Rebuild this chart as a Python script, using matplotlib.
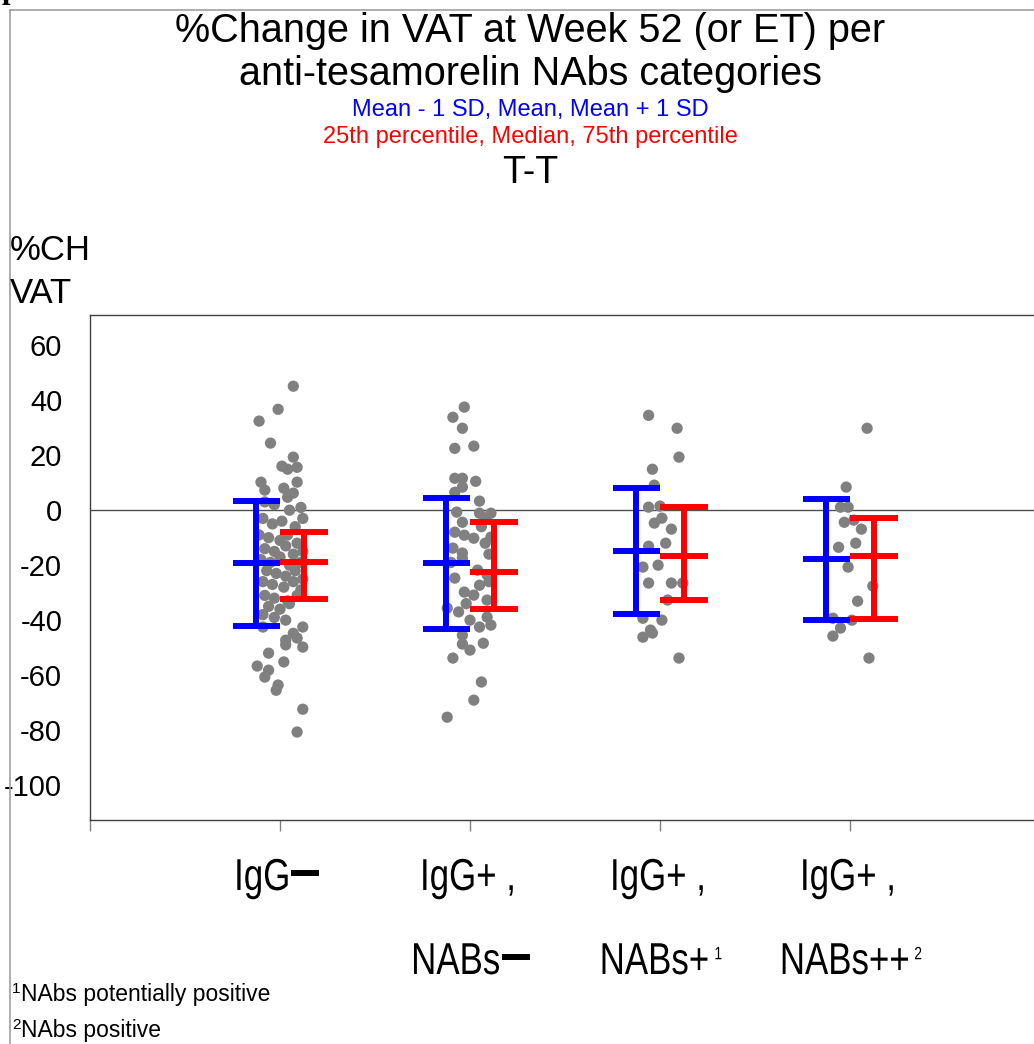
import numpy as np
import matplotlib
matplotlib.use("Agg")
import matplotlib.pyplot as plt
from matplotlib.lines import Line2D
from matplotlib.textpath import TextPath
from matplotlib.patches import PathPatch
from matplotlib.path import Path
from matplotlib.font_manager import FontProperties
from matplotlib.transforms import Affine2D

plt.rcParams['font.family'] = ['Liberation Sans', 'DejaVu Sans']
plt.rcParams['axes.unicode_minus'] = False

# x-axis labels, two lines per category; each piece is (text, relative size, rise, gap before)
# a text of None is the heavy minus bar used by the original
cat_line1 = [
    [("IgG", 1.0, 0.0, 0), (None, 1.0, 0.0, 3)],
    [("IgG+ ,", 1.0, 0.0, 0)],
    [("IgG+ ,", 1.0, 0.0, 0)],
    [("IgG+ ,", 1.0, 0.0, 0)],
]
cat_line2 = [
    [],
    [("NABs", 1.0, 0.0, 0), (None, 1.0, 0.0, 3)],
    [("NABs+", 1.0, 0.0, 0), ("1", 0.4, 0.33, 8)],
    [("NABs++", 1.0, 0.0, 0), ("2", 0.4, 0.33, 7)],
]

# individual %change values and horizontal jitter (category units)
g1_vals = [45.1, 36.7, 32.4, 24.4, 19.3, 16.0, 14.9, 15.6, 10.2, 7.3, 8.0, 10.2, 6.2, 4.7,
           3, 2, 0, 1, -3, -5, -4, -6, -3, -9, -10, -11, -9, -12, -14, -15, -13, -16, -15,
           -18, -19, -17, -20, -19, -22, -23, -24, -22, -25, -26, -27, -28, -26, -29,
           -31, -32, -33, -31, -35, -36, -34, -38, -39, -40,
           -42.5, -42.5, -44.8, -47.3, -49, -49.8, -46.5, -52, -55.2, -56.7, -58.2,
           -60.7, -63.6, -65.5, -72.4, -80.7]
g1_jit = [0.07, -0.01, -0.11, -0.05, 0.07, 0.01, 0.04, 0.09, -0.10, -0.08, 0.02, 0.09, 0.07, 0.04,
          -0.08, -0.03, 0.05, 0.11, -0.09, -0.04, 0.01, 0.08, 0.12, -0.11, -0.06, 0.0, 0.04, 0.09,
          -0.08, -0.03, 0.03, 0.07, 0.12, -0.10, -0.05, 0.0, 0.05, 0.11, -0.07, -0.02, 0.03, 0.08,
          0.12, -0.09, -0.04, 0.02, 0.07, 0.11, -0.08, -0.03, 0.04, 0.09, -0.06, 0.0, 0.05, -0.09,
          -0.03, 0.03,
          -0.09, 0.12, 0.07, 0.03, 0.03, 0.12, 0.09, -0.06, 0.02, -0.12, -0.06, -0.08, -0.01, -0.02,
          0.12, 0.09]

g2_vals = [37.5, 33.8, 29.8, 22.5, 23.3, 11.6, 11.6, 10.5, 6.5, 8.4, 3.3, -0.7, -1.1, -1.1,
           -4.4, -3.0, -8.0, -9.1, -10.2, -9.8, -13.8, -15.6, -17.5, -21.8, -24.7, -29.8, -30.9,
           -27.3, -32.7, -35.6, -37.0, -38.9, -42.5, -41.8, -45.5, -48.7, -50.9, -48.4, -53.8,
           -62.5, -69.1, -75.3, -19.0, -23.5, -12.0, -6.0, -26.0, -34.0, -40.0, -16.0]
g2_jit = [-0.03, -0.09, -0.04, -0.08, 0.02, -0.08, -0.04, 0.03, -0.08, -0.04, 0.05, -0.07, 0.05, 0.11,
          -0.04, 0.08, -0.08, -0.03, 0.02, 0.11, -0.09, -0.04, -0.04, 0.04, -0.08, -0.03, 0.02,
          0.05, 0.09, -0.12, -0.06, 0.09, 0.05, 0.11, -0.04, -0.04, 0.0, 0.07, -0.09,
          0.06, 0.02, -0.12, -0.10, 0.09, 0.08, 0.06, 0.10, -0.02, 0.0, 0.10]

g3_vals = [34.5, 29.8, 19.3, 14.9, 9.1, 1.1, 1.5, -4.7, -2.9, -6.9, -12.0, -13.1, -20.0, -20.7,
           -26.5, -26.5, -26.5, -32.7, -39.3, -40.0, -43.6, -46.2, -44.7, -53.8]
g3_jit = [-0.06, 0.09, 0.10, -0.04, -0.03, -0.06, 0.0, -0.03, 0.01, 0.06, 0.03, -0.06, -0.01, -0.09,
          -0.06, 0.06, 0.12, 0.04, -0.09, 0.01, -0.05, -0.09, -0.04, 0.10]

g4_vals = [29.8, 8.4, 1.1, 1.1, -4.4, -3.6, -6.9, -12.0, -13.5, -20.7, -27.6, -33.1, -39.3,
           -40.0, -42.9, -45.8, -53.8]
g4_jit = [0.09, -0.02, -0.05, -0.01, -0.03, 0.02, 0.06, 0.03, -0.06, -0.01, 0.12, 0.04, -0.09,
          0.01, -0.05, -0.09, 0.10]

# summary statistics per category
mean_minus_sd = [-42.2, -43.4, -37.6, -39.8]
mean_vals = [-19.2, -19.3, -14.8, -17.8]
mean_plus_sd = [3.4, 4.6, 8.2, 4.1]
p25 = [-32.2, -36.0, -32.5, -39.5]
median_vals = [-19.0, -22.4, -16.6, -16.7]
p75 = [-8.0, -4.2, 1.0, -3.0]

W, H = 1034, 1044
fig = plt.figure(figsize=(W / 100, H / 100), dpi=100)
ax = fig.add_axes([90 / W, 1 - 820 / H, 944 / W, 505 / H])

groups = [(g1_vals, g1_jit), (g2_vals, g2_jit), (g3_vals, g3_jit), (g4_vals, g4_jit)]
for i, (vals, jit) in enumerate(groups):
    xs = (i + 1) + np.array(jit)
    ax.scatter(xs, vals, s=66, color='#808080', edgecolors='none', zorder=2)

ax.axhline(0, color='#505050', lw=1.0, zorder=1)

off = 0.125
cap = 0.125
xpos = np.arange(1, 5)
# blue: mean +/- 1 SD
for x, lo, mid, hi in zip(xpos - off, mean_minus_sd, mean_vals, mean_plus_sd):
    ax.plot([x, x], [lo, hi], color='#0000ff', lw=4.3, solid_capstyle='butt', zorder=3)
    for y in (lo, mid, hi):
        ax.plot([x - cap, x + cap], [y, y], color='#0000ff', lw=4.3, solid_capstyle='butt', zorder=3)
# red: quartiles
for x, lo, mid, hi in zip(xpos + off, p25, median_vals, p75):
    ax.plot([x, x], [lo, hi], color='#ff0000', lw=4.3, solid_capstyle='butt', zorder=4)
    for y in (lo, mid, hi):
        ax.plot([x - cap, x + cap], [y, y], color='#ff0000', lw=4.3, solid_capstyle='butt', zorder=4)

ax.set_xlim(0, 944 / 190)
ax.set_ylim(-112.7, 71)
ax.set_yticks(np.arange(-100, 61, 20))
ax.tick_params(axis='y', length=0, pad=20, labelsize=21)
ax.set_xticks(np.arange(0, 5))
ax.set_xticklabels([])
ax.tick_params(axis='x', length=8, width=1, color='#808080', direction='out')
for sp in ax.spines.values():
    sp.set_color('#404040')
    sp.set_linewidth(1.0)
ax.spines['right'].set_visible(False)


def condensed_label(cx_px, cy_img, parts, em=44.7, sx=0.78):
    # narrow label drawn from glyph outlines, centred on cx_px
    fp = FontProperties(family='Liberation Sans')
    cap_h = 0.716 * em
    pieces = []
    x = 0.0
    for s, rel, rise, gap in parts:
        x += gap / sx
        if s is None:
            bar_w, bar_h = 28 / sx, 6
            p = Path.unit_rectangle().transformed(
                Affine2D().scale(bar_w, bar_h).translate(0, 0.52 * cap_h - bar_h / 2))
            pieces.append((p, x, 0))
            x += bar_w
        else:
            p = TextPath((0, 0), s, size=em * rel, prop=fp)
            ext = p.get_extents()
            pieces.append((p, x - ext.x0, rise * em))
            x += ext.width
    left = cx_px - x * sx / 2
    base_y = H - cy_img - cap_h / 2
    for p, dx, dy in pieces:
        tr = Affine2D().translate(dx, dy).scale(sx, 1).translate(left, base_y)
        fig.add_artist(PathPatch(p, transform=tr, facecolor='black', lw=0))


for i, (l1, l2) in enumerate(zip(cat_line1, cat_line2)):
    x_px = ax.transData.transform((i + 1, 0))[0]
    condensed_label(x_px - 2, 874, l1)
    if l2:
        condensed_label(x_px + 2, 958, l2)

# titles
fig.text(530 / W, 1 - 31 / H, "%Change in VAT at Week 52 (or ET) per",
         ha='center', va='center', fontsize=28.5)
fig.text(530 / W, 1 - 74 / H, "anti-tesamorelin NAbs categories",
         ha='center', va='center', fontsize=28.5)
fig.text(530 / W, 1 - 110 / H, "Mean - 1 SD, Mean, Mean + 1 SD",
         ha='center', va='center', fontsize=17, color='#0000ff')
fig.text(530 / W, 1 - 137 / H, "25th percentile, Median, 75th percentile",
         ha='center', va='center', fontsize=17, color='#ff0000')
fig.text(530 / W, 1 - 173 / H, "T-T", ha='center', va='center', fontsize=27)

# y axis label
fig.text(10 / W, 1 - 251 / H, "%CH", ha='left', va='center', fontsize=25)
fig.text(10 / W, 1 - 294 / H, "VAT", ha='left', va='center', fontsize=25)

# footnotes with raised markers
fig.text(12 / W, 1 - 989 / H, "1", ha='left', va='center', fontsize=11)
fig.text(21 / W, 1 - 994 / H, "NAbs potentially positive", ha='left', va='center', fontsize=16.5)
fig.text(12 / W, 1 - 1025 / H, "2", ha='left', va='center', fontsize=11)
fig.text(21 / W, 1 - 1030 / H, "NAbs positive", ha='left', va='center', fontsize=16.5)

# leftover of text above the cropped page and the page frame
fig.text(2 / W, 1 + 2 / H, "p", ha='left', va='baseline', fontsize=22, weight='bold',
         family='Liberation Serif')
fig.add_artist(Line2D([10 / W, 10 / W], [0, 1 - 10 / H], transform=fig.transFigure,
                      color='#a0a0a0', lw=1.2))
fig.add_artist(Line2D([10 / W, 1], [1 - 10 / H, 1 - 10 / H], transform=fig.transFigure,
                      color='#a0a0a0', lw=1.2))

fig.savefig("out.png", dpi=100)
